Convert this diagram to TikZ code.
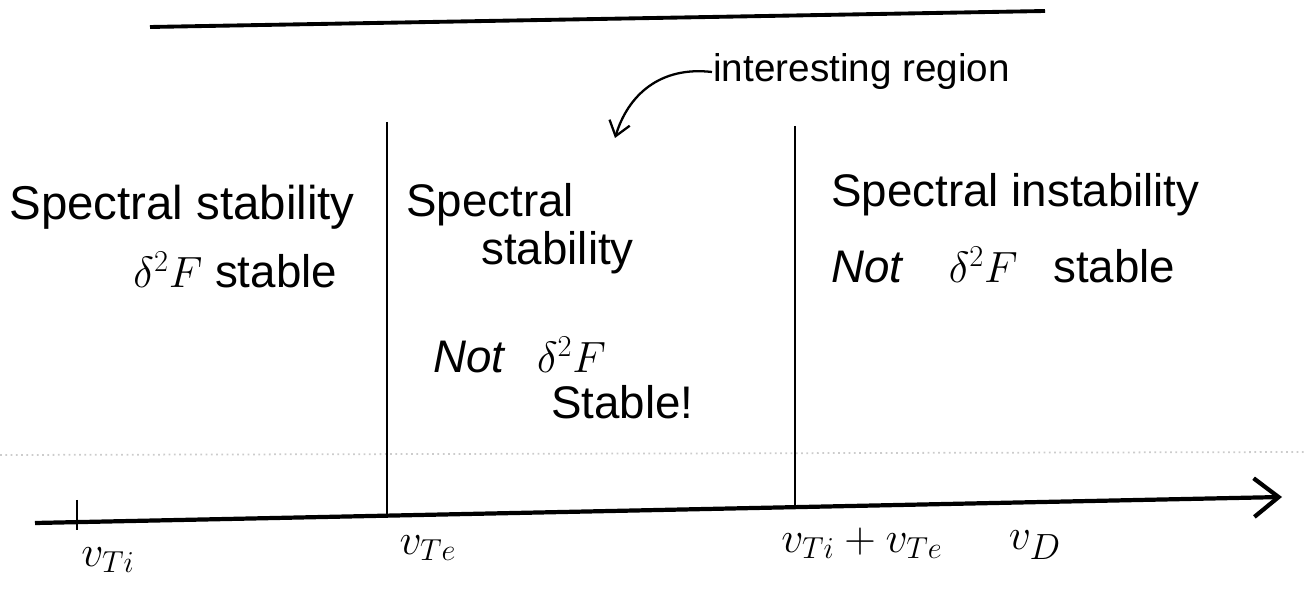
\documentclass[tikz,border=0pt]{standalone}
\usepackage{fontspec}
\setmainfont{Liberation Sans}
\usepackage{amsmath}
\usetikzlibrary{arrows.meta, positioning}

\begin{document}
\begin{tikzpicture}[x=0.02cm, y=-0.02cm, >=Stealth, line width=1.6pt]
    \useasboundingbox (0,0) rectangle (1304,590);
    \tikzset{
        lbl/.style={font=\fontsize{26}{30}\selectfont, inner sep=0pt},
        axlbl/.style={font=\fontsize{26}{30}\selectfont, inner sep=0pt}
    }

    % Trang tren
    \coordinate (topL) at (150,27);
    \coordinate (topR) at (1045,11);
    \draw[line width=2.2pt] (topL) -- (topR);

    % Truc v_D
    \coordinate (axL) at (35,523);
    \coordinate (axR) at (1282,497);
    \draw[line width=2.4pt, -{Straight Barb[length=14pt, width=22pt]}] (axL) -- (axR);
    \draw[gray!40, dotted, line width=1pt] (0,455) -- (1304,452);

    % Vach chia
    \coordinate (tickT) at (77,500);
    \coordinate (tickB) at (77,530);
    \draw (tickT) -- (tickB);
    \coordinate (sepAT) at (387,122);
    \coordinate (sepAB) at (387,516);
    \draw (sepAT) -- (sepAB);
    \coordinate (sepBT) at (795,126);
    \coordinate (sepBB) at (795,507);
    \draw (sepBT) -- (sepBB);

    % Vung 1
    \node[lbl, anchor=west, font=\fontsize{27}{30}\selectfont] (specA) at (8,207) {Spectral stability};
    \node[lbl, anchor=west] (stabA) at (132,270) {$\delta^2F$ stable};

    % Vung 2
    \node[lbl, anchor=west] (specB) at (405,205) {Spectral};
    \node[lbl, anchor=west] (stabB) at (480,253) {stability};
    \node[lbl, anchor=west] (notB) at (432,355) {\textit{Not}\hspace{0.4em} $\delta^2F$};
    \node[lbl, anchor=west] (stableB) at (550,402) {Stable!};

    % Vung 3
    \node[lbl, anchor=west] (specC) at (830,195) {Spectral instability};
    \node[lbl, anchor=west] (notC) at (830,265) {\textit{Not}\hspace{0.7em} $\delta^2F$\hspace{0.5em} stable};

    % Chu thich
    \node[font=\fontsize{22}{24}\selectfont, inner sep=0pt, anchor=west] (intr) at (712,72) {interesting region};
    \coordinate (arrE) at (615,138);
    \draw[line width=1.3pt, -{Straight Barb[length=8pt, width=12pt]}] (intr.west) .. controls (660,66) and (628,95) .. (arrE);

    % Nhan truc
    \node[axlbl] (vTi) at (108,560) {$v_{Ti}$};
    \node[axlbl] (vTe) at (428,548) {$v_{Te}$};
    \node[axlbl] (vSum) at (862,543) {$v_{Ti}+v_{Te}$};
    \node[axlbl, font=\fontsize{32}{34}\selectfont] (vD) at (1035,545) {$v_D$};
\end{tikzpicture}
\end{document}
